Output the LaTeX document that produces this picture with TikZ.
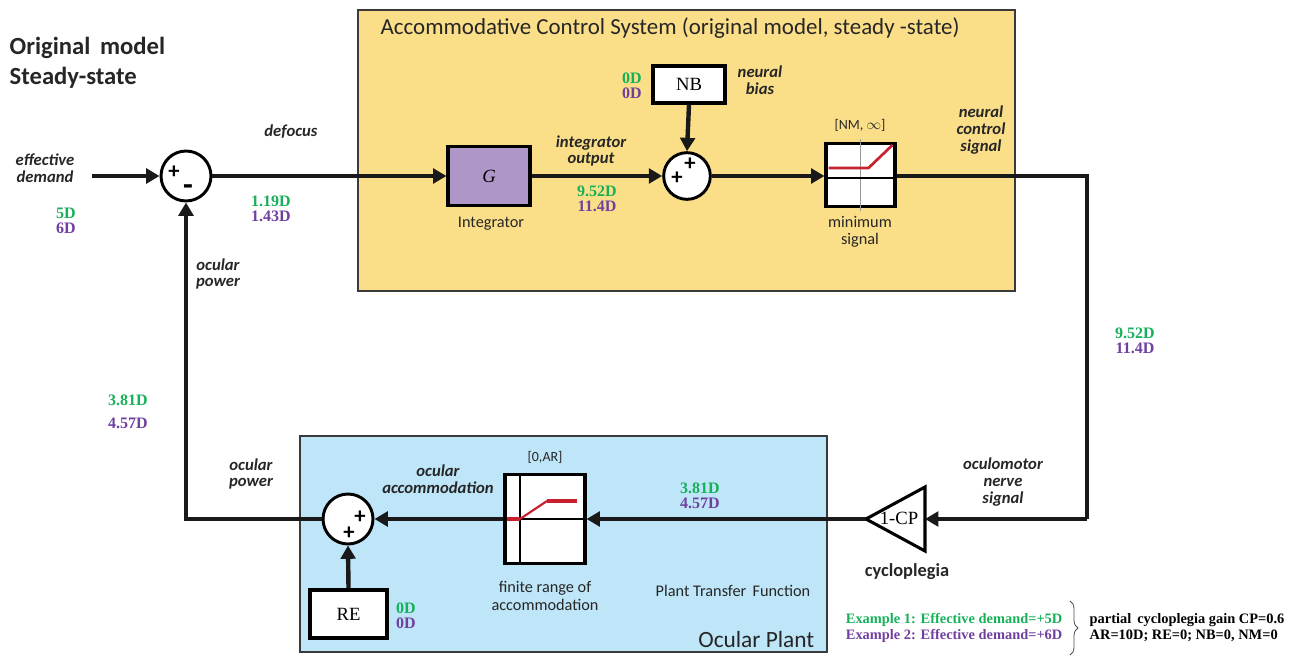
\documentclass[tikz,border=0pt]{standalone}
\usepackage{fontspec}
\setmainfont{Liberation Serif}
\newfontfamily\lab{Carlito}
\usetikzlibrary{arrows.meta,calc,decorations.pathreplacing}
\definecolor{grn}{HTML}{17B05A}
\definecolor{prp}{HTML}{7040A0}
\definecolor{ylw}{HTML}{FBDF88}
\definecolor{blu}{HTML}{BEE6F8}
\definecolor{gbox}{HTML}{AE97C8}
\definecolor{rd}{HTML}{C8202F}
\definecolor{edge}{HTML}{3A3A3A}
\begin{document}
\begin{tikzpicture}[x=0.75pt,y=-0.75pt,
  panel/.style={draw=edge,line width=1.2pt},
  sig/.style={line width=3.3pt,draw=black!90,-{Triangle[length=10pt,width=11pt]}},
  wire/.style={line width=3.3pt,draw=black!90},
  sumn/.style={circle,draw,line width=2.2pt,fill=white,inner sep=0pt},
  blk/.style={rectangle,draw,line width=2.3pt,fill=white,inner sep=0pt},
  lbl/.style={font=\lab\bfseries\itshape\fontsize{12.5}{12.6}\selectfont,align=center,text=black!85},
  val/.style={font=\bfseries\fontsize{12}{11.5}\selectfont,align=center},
  txt/.style={font=\lab\fontsize{12.2}{13}\selectfont,align=center,text=black!85},
  sgn/.style={font=\lab\bfseries\fontsize{17}{17}\selectfont,inner sep=0pt}
]
\useasboundingbox (0,0) rectangle (1299,656);
% panels
\fill[ylw] (358,10) rectangle (1015,291);
\draw[panel] (358,10) rectangle (1015,291);
\fill[blu] (300,436) rectangle (827,652);
\draw[panel] (300,436) rectangle (827,652);

% titles
\node[anchor=west,font=\lab\bfseries\fontsize{18.5}{22.5}\selectfont,align=left,text=black!85] (title) at (5,63) {Original\, model\\Steady-state};
\node[anchor=west,font=\lab\fontsize{17.2}{18}\selectfont,text=black!85] (acs) at (376,28) {Accommodative Control System (original model, steady -state)};
\node[anchor=east,font=\lab\fontsize{17.5}{18}\selectfont,text=black!85] (op) at (819,639) {Ocular Plant};

% blocks
\node[sumn,minimum size=37.5pt] (s1) at (186,176) {};
\node[sumn,minimum size=35pt] (s2) at (687,176) {};
\node[sumn,minimum size=37.5pt] (s3) at (348,519) {};
\node[blk,fill=gbox,minimum width=61.5pt,minimum height=44.25pt,font=\itshape\fontsize{14}{14}\selectfont] (G) at (489,176) {G};
\node[blk,minimum width=54pt,minimum height=27.75pt,font=\fontsize{14}{14}\selectfont] (NB) at (689,84.5) {NB};
\node[blk,minimum width=51.75pt,minimum height=47.25pt] (mn) at (860.5,175) {};
\node[blk,minimum width=60pt,minimum height=66.75pt] (fr) at (545,519) {};
\node[blk,minimum width=57.75pt,minimum height=36pt,font=\fontsize{14}{14}\selectfont] (RE) at (348.5,614) {RE};

% gain triangle
\coordinate (tin) at (925,519);
\coordinate (tout) at (866,519);
\draw[line width=2.3pt,fill=white,line join=miter] (925,487) -- (866,519) -- (925,551) -- cycle;
\node[font=\fontsize{14}{14}\selectfont,inner sep=0pt] (cp) at (899,518) {1-CP};

% signs
\node[sgn] (p1) at (174,172) {+};
\node[sgn,font=\lab\bfseries\fontsize{24}{24}\selectfont] (m1) at (188,190) {-};
\node[sgn] (p2a) at (690,164) {+};
\node[sgn] (p2b) at (677,178) {+};
\node[sgn] (p3a) at (360,517) {+};
\node[sgn] (p3b) at (349,533) {+};

% inner graphs
\draw[black!40,line width=1pt] ($(mn.north)+(0,-3)$) -- ($(mn.south)+(0,3)$);
\draw[black,line width=0.9pt] ($(mn.west)+(3,3)$) -- ($(mn.east)+(-3,3)$);
\draw[rd,line width=2pt] ($(mn.center)+(-32,-7)$) -- ($(mn.center)+(8,-7)$) -- ($(mn.center)+(32,-30)$);
\draw[black,line width=0.9pt] ($(fr.north)+(-25,3)$) -- ($(fr.south)+(-25,-3)$);
\draw[black,line width=0.9pt] ($(fr.west)+(3,0)$) -- ($(fr.east)+(-3,0)$);
\draw[rd,line width=2.3pt] ($(fr.center)+(-38,0)$) -- ($(fr.center)+(-25,0)$);
\draw[rd,line width=1.6pt] ($(fr.center)+(-25,0)$) -- ($(fr.center)+(2,-18)$);
\draw[rd,line width=2.3pt] ($(fr.center)+(2,-18)$) -- ($(fr.center)+(32,-18)$);

% connectors
\coordinate (ed) at (92,176);
\coordinate (cr) at (1087,519);
\draw[sig] (ed) -- (s1.west);
\draw[sig] (s1.east) -- (G.west);
\draw[sig] (G.east) -- (s2.west);
\draw[sig] (NB.south) -- (s2.north);
\draw[sig] (s2.east) -- (mn.west |- s2.east);
\draw[wire,line join=miter] (mn.east |- s2.east) -| (cr);
\draw[sig] (cr) -- (tin);
\draw[sig] (tout) -- (fr.east);
\draw[sig] (fr.west) -- (s3.east);
\draw[sig] (RE.north) -- (s3.south);
\draw[sig,line join=miter] (s3.west) -| (s1.south);

% labels
\node[lbl] (l1) at (45,168) {effective\\demand};
\node[val] (v1) at (66,221) {\textcolor{grn}{5D}\\\textcolor{prp}{6D}};
\node[lbl] (l2) at (291,132) {defocus};
\node[val] (v2) at (271,209) {\textcolor{grn}{1.19D}\\\textcolor{prp}{1.43D}};
\node[lbl] (l3) at (591,151) {integrator\\output};
\node[val] (v3) at (597,199) {\textcolor{grn}{9.52D}\\\textcolor{prp}{11.4D}};
\node[val] (v4) at (632,86) {\textcolor{grn}{0D}\\\textcolor{prp}{0D}};
\node[lbl] (l4) at (760,80) {neural\\bias};
\node[txt,font=\lab\fontsize{10.5}{12}\selectfont] (nm) at (860,125) {[NM, $\infty$]};
\node[txt] (l5) at (491,224) {Integrator};
\node[txt] (l6) at (860,232) {minimum\\signal};
\node[lbl] (l7) at (981,130) {neural\\control\\signal};
\node[val] (v5) at (1135,341) {\textcolor{grn}{9.52D}\\\textcolor{prp}{11.4D}};
\node[lbl] (l8) at (218,274) {ocular\\power};
\node[val,text=grn] (v6a) at (128,400) {3.81D};
\node[val,text=prp] (v6b) at (128,423) {4.57D};
\node[lbl] (l9) at (251,474) {ocular\\power};
\node[lbl] (l10) at (438,479) {ocular\\accommodation};
\node[txt,font=\lab\fontsize{10.5}{12}\selectfont] (ar) at (545,457) {[0,AR]};
\node[txt] (l11) at (545,596) {finite range of\\accommodation};
\node[val] (v7) at (700,496) {\textcolor{grn}{3.81D}\\\textcolor{prp}{4.57D}};
\node[txt] (l12) at (733,591) {Plant Transfer\, Function};
\node[lbl] (l13) at (1003,482) {oculomotor\\nerve\\signal};
\node[font=\lab\bfseries\fontsize{13.8}{14}\selectfont,text=black!85] (cy) at (907,572) {cycloplegia};
\node[val] (v8) at (406,616) {\textcolor{grn}{0D}\\\textcolor{prp}{0D}};

% examples
\node[anchor=east,font=\bfseries\fontsize{10.8}{12}\selectfont,align=right] (ex) at (1067,628) {\textcolor{grn}{Example 1: Effective demand=+5D}\\\textcolor{prp}{Example 2: Effective demand=+6D}};
\coordinate (bt) at (1070,601);
\coordinate (bb) at (1070,655);
\draw[black!70,line width=0.6pt,decorate,decoration={brace,amplitude=6pt}] (bt) -- (bb);
\node[anchor=west,font=\bfseries\fontsize{10.8}{12}\selectfont,align=left] (par) at (1085,628) {partial\, cycloplegia gain CP=0.6\\AR=10D; RE=0; NB=0, NM=0};
\end{tikzpicture}
\end{document}
